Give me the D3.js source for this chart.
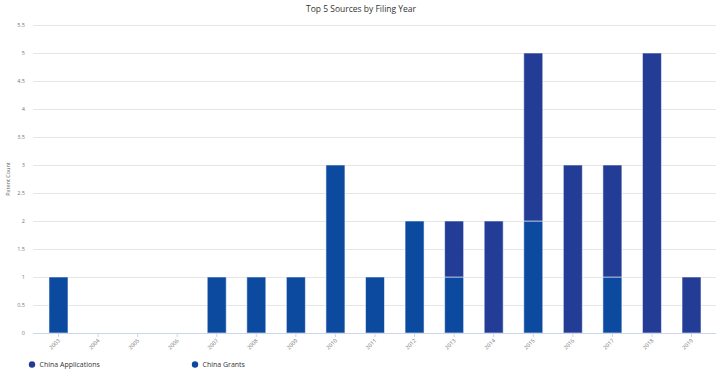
<!DOCTYPE html>
<html><head><meta charset="utf-8">
<script src="https://cdn.jsdelivr.net/npm/d3@7"></script>
<style>body{margin:0;background:#fff;font-family:"Open Sans","DejaVu Sans",sans-serif;}</style>
</head><body>
<svg id="c" width="722" height="378"></svg>
<script>
const years = ["2003","2004","2005","2006","2007","2008","2009","2010","2011","2012","2013","2014","2015","2016","2017","2018","2019"];
const chinaGrants =       [1,0,0,0,1,1,1,3,1,2,1,0,2,0,1,0,0];
const chinaApplications = [0,0,0,0,0,0,0,0,0,0,1,2,3,3,2,5,1];
const yTicks = [0,0.5,1,1.5,2,2.5,3,3.5,4,4.5,5,5.5];
const seriesNames = ["China Applications","China Grants"];
const colors = {"China Applications":"#233c96","China Grants":"#0c4aa0"};

(function(){
const svg = d3.select("#c");
const pLeft = 33, pRight = 716, pTop = 25, pBottom = 333;
const x = d3.scaleBand().domain(years).range([38.7, 711.3]).paddingInner(0.52).paddingOuter(0.26);
const y = d3.scaleLinear().domain([0,5.5]).range([pBottom, pTop]);

svg.append("g").selectAll("line").data(yTicks.filter(d=>d>0)).join("line")
  .attr("x1", pLeft).attr("x2", pRight)
  .attr("y1", d=>y(d)+0.5).attr("y2", d=>y(d)+0.5)
  .attr("stroke", "#e6e6e6").attr("stroke-width", 1);

svg.append("g").selectAll("text").data(yTicks).join("text")
  .attr("x", 25).attr("y", d=>y(d)+2)
  .attr("text-anchor","end").attr("font-size","5.5px").attr("fill","#777")
  .text(d=>String(d));

const rows = years.map((yr,i)=>({year:yr, "China Grants":chinaGrants[i], "China Applications":chinaApplications[i]}));
const layers = d3.stack().keys(["China Grants","China Applications"])(rows);
const bw = 19;
svg.append("g").selectAll("g").data(layers).join("g")
  .attr("fill", d=>colors[d.key])
  .selectAll("rect").data(d=>d.filter(s=>s[1]-s[0]>0)).join("rect")
  .attr("x", d=>x(d.data.year)+x.bandwidth()/2-bw/2)
  .attr("width", bw)
  .attr("y", d=>y(d[1]))
  .attr("height", d=>y(d[0])-y(d[1]))
  .attr("stroke","#ffffff").attr("stroke-opacity",0.55).attr("stroke-width",1);

svg.append("line").attr("x1", pLeft).attr("x2", pRight).attr("y1", pBottom+0.5).attr("y2", pBottom+0.5)
  .attr("stroke","#ccd6eb").attr("stroke-width",1);
const xg = svg.append("g");
years.forEach(yr=>{
  const cx = x(yr)+x.bandwidth()/2;
  xg.append("line").attr("x1",cx).attr("x2",cx).attr("y1",pBottom).attr("y2",pBottom+4)
    .attr("stroke","#ccd6eb");
  xg.append("text").attr("transform",`translate(${cx+2},${pBottom+8}) rotate(-45)`)
    .attr("text-anchor","end").attr("font-size","5.5px").attr("fill","#777").text(yr);
});

svg.append("text").attr("x",361).attr("y",12).attr("text-anchor","middle")
  .attr("font-size","8.5px").attr("fill","#333").text("Top 5 Sources by Filing Year");

svg.append("text").attr("transform","translate(10,179) rotate(-90)")
  .attr("text-anchor","middle").attr("font-size","5.5px").attr("fill","#666").text("Patent Count");

const legX = [32, 195];
seriesNames.forEach((n,i)=>{
  svg.append("circle").attr("cx",legX[i]).attr("cy",364.5).attr("r",3.2).attr("fill",colors[n]);
  svg.append("text").attr("x",legX[i]+7.5).attr("y",367).attr("font-size","7px").attr("fill","#333").text(n);
});
})();
</script>
</body></html>
